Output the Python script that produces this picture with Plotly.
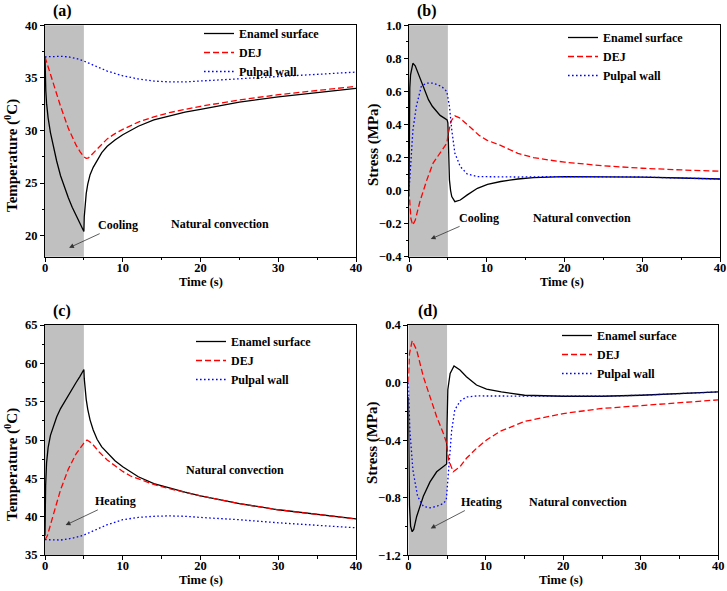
import plotly.graph_objects as go

# ---------------- data ----------------
series_names = ["Enamel surface", "DEJ", "Pulpal wall"]
stage_end = 5  # end of cooling / heating stage (s)

# (a) temperature, cooling
t_a_enamel = [0, 0.03, 0.1, 0.2, 0.4, 0.7, 1.0, 1.5, 2.0, 2.5, 3.0, 3.5, 4.0, 4.5, 5.0,
              5.05, 5.15, 5.3, 5.5, 5.8, 6.2, 6.7, 7.3, 8, 9, 10, 12, 14, 16, 18, 20, 25, 30, 35, 40]
temp_a_enamel = [37.0, 35.0, 33.8, 32.6, 31.2, 29.8, 28.7, 27.1, 25.7, 24.6, 23.6, 22.7, 21.9, 21.2, 20.4,
                 21.8, 23.0, 24.0, 24.9, 25.8, 26.5, 27.2, 27.9, 28.5, 29.1, 29.6, 30.4, 31.0, 31.4, 31.75, 32.0, 32.7, 33.2, 33.6, 34.0]
t_a_dej = [0, 0.3, 1, 2, 3, 4, 4.5, 5, 5.3, 5.6, 6, 6.5, 7, 8, 9, 10, 12, 14, 16, 20, 25, 30, 35, 40]
temp_a_dej = [37.0, 36.3, 34.6, 32.3, 30.2, 28.6, 28.0, 27.5, 27.35, 27.4, 27.7, 28.1, 28.5, 29.2, 29.7,
              30.1, 30.8, 31.3, 31.7, 32.3, 32.9, 33.4, 33.8, 34.2]
t_a_pulp = [0, 1, 2, 3, 4, 5, 6, 7, 8, 10, 12, 14, 16, 18, 20, 25, 30, 35, 40]
temp_a_pulp = [37.0, 37.05, 37.05, 37.0, 36.85, 36.6, 36.3, 35.95, 35.65, 35.2, 34.9, 34.7, 34.62, 34.62,
               34.7, 34.9, 35.1, 35.3, 35.55]

# (b) stress, cooling
t_b_enamel = [0, 0.05, 0.1, 0.2, 0.35, 0.5, 0.8, 1.0, 1.5, 2.0, 2.5, 3.0, 3.5, 4.0, 4.5, 4.9, 5.0,
              5.1, 5.2, 5.35, 5.5, 5.9, 6.6, 7.5, 8.8, 10.1, 11.8, 14, 16, 20, 25, 30, 35, 40]
stress_b_enamel = [0.0, 0.45, 0.62, 0.70, 0.75, 0.77, 0.755, 0.73, 0.665, 0.60, 0.55, 0.51, 0.48, 0.455,
                   0.44, 0.428, 0.41, 0.2, 0.065, 0.0, -0.036, -0.067, -0.057, -0.026, 0.014, 0.038, 0.055,
                   0.07, 0.078, 0.085, 0.085, 0.082, 0.076, 0.07]
t_b_dej = [0, 0.1, 0.25, 0.47, 0.8, 1.4, 2.3, 3.1, 4.0, 4.86, 5.07, 5.4, 5.9, 6.5, 7, 8, 9, 10, 11.7,
           14, 16, 18, 20, 25, 30, 35, 40]
stress_b_dej = [0.0, -0.1, -0.17, -0.208, -0.18, -0.067, 0.065, 0.166, 0.226, 0.287, 0.347, 0.42, 0.452,
                0.44, 0.42, 0.375, 0.335, 0.305, 0.275, 0.225, 0.2, 0.185, 0.172, 0.15, 0.135, 0.125, 0.117]
t_b_pulp = [0, 0.3, 0.51, 0.94, 1.58, 2.2, 3.1, 4.2, 4.86, 5.2, 5.5, 5.9, 6.6, 7.5, 8.8, 10, 14, 20, 25, 30, 35, 40]
stress_b_pulp = [0.0, 0.186, 0.368, 0.509, 0.63, 0.65, 0.65, 0.63, 0.60, 0.51, 0.368, 0.226, 0.145, 0.10,
                 0.085, 0.084, 0.082, 0.085, 0.085, 0.082, 0.076, 0.07]

# (c) temperature, heating
t_c_enamel = [0, 0.03, 0.08, 0.2, 0.4, 0.7, 1.0, 1.5, 2.0, 2.5, 3.0, 3.5, 4.0, 4.5, 5.0,
              5.05, 5.15, 5.3, 5.5, 5.8, 6.2, 6.7, 7.3, 8, 9, 10, 11, 12, 14, 16, 18, 20, 25, 30, 35, 40]
temp_c_enamel = [37.5, 41.0, 44.0, 47.0, 49.0, 50.6, 51.6, 53.0, 54.1, 55.0, 55.9, 56.7, 57.5, 58.3, 59.2,
                 58.0, 56.8, 55.3, 54.0, 52.6, 51.3, 50.1, 49.1, 48.3, 47.3, 46.5, 45.8, 45.2, 44.3, 43.7,
                 43.2, 42.7, 41.7, 40.9, 40.3, 39.7]
t_c_dej = [0, 0.3, 1, 2, 3, 4, 5, 5.4, 6, 7, 8, 9, 10, 11, 12, 14, 16, 18, 20, 25, 30, 35, 40]
temp_c_dej = [37.0, 37.5, 40.0, 43.5, 46.2, 48.2, 49.6, 50.0, 49.6, 48.4, 47.4, 46.6, 45.9, 45.3, 44.9,
              44.2, 43.65, 43.2, 42.7, 41.7, 40.9, 40.3, 39.7]
t_c_pulp = [0, 1, 2, 3, 4, 5, 6, 7, 8, 10, 12, 14, 16, 18, 20, 25, 30, 35, 40]
temp_c_pulp = [37.0, 36.95, 36.95, 37.1, 37.3, 37.6, 38.0, 38.5, 38.95, 39.6, 39.9, 40.05, 40.1, 40.05,
               39.9, 39.6, 39.2, 38.9, 38.55]

# (d) stress, heating
t_d_enamel = [0, 0.05, 0.15, 0.3, 0.5, 0.7, 1.08, 1.94, 2.8, 3.66, 4.52, 4.95, 5.0, 5.1, 5.4, 5.9,
              6.67, 7.5, 8.8, 10.1, 12, 15, 20, 25, 30, 35, 40]
stress_d_enamel = [-0.1, -0.5, -0.85, -1.0, -1.036, -1.02, -0.93, -0.79, -0.69, -0.62, -0.584, -0.566,
                   -0.3, -0.05, 0.064, 0.115, 0.087, 0.041, -0.017, -0.045, -0.065, -0.088, -0.095,
                   -0.095, -0.088, -0.078, -0.065]
t_d_dej = [0, 0.15, 0.5, 1.08, 1.94, 2.8, 3.66, 4.52, 4.95, 5.2, 5.8, 6.67, 7.5, 8.8, 10.1, 11.8, 15,
           20, 25, 30, 35, 40]
stress_d_dej = [0.0, 0.2, 0.291, 0.226, 0.041, -0.098, -0.237, -0.353, -0.42, -0.538, -0.62, -0.585,
                -0.526, -0.457, -0.399, -0.34, -0.27, -0.215, -0.18, -0.16, -0.14, -0.12]
t_d_pulp = [0, 0.2, 0.6, 1.2, 1.94, 2.8, 3.66, 4.52, 4.9, 5.1, 5.3, 5.6, 6.0, 6.67, 7.5, 8.8, 11.8,
            16, 20, 25, 30, 35, 40]
stress_d_pulp = [0.0, -0.33, -0.61, -0.79, -0.86, -0.87, -0.86, -0.84, -0.816, -0.7, -0.54, -0.33,
                 -0.19, -0.13, -0.10, -0.093, -0.093, -0.093, -0.095, -0.095, -0.088, -0.078, -0.065]

# axis ranges and ticks
x_range = [0, 40]
x_title = "Time (s)"
y_ranges = {"a": [18, 40], "b": [-0.4, 1.0], "c": [35, 65], "d": [-1.2, 0.4]}
y_dticks = {"a": 5, "b": 0.2, "c": 5, "d": 0.4}
y_titles = {"a": "Temperature (<sup>0</sup>C)", "b": "Stress (MPa)",
            "c": "Temperature (<sup>0</sup>C)", "d": "Stress (MPa)"}
stage_labels = {"a": "Cooling", "b": "Cooling", "c": "Heating", "d": "Heating"}

# ---------------- figure ----------------
W, H = 727, 591
FONT = "Liberation Serif"
colors = ["#000000", "#ff0000", "#0000ff"]
dashes = ["solid", "6px,3px", "1.6px,2.4px"]

panels = [
    ("a", "x", "y", "legend",
     [(t_a_enamel, temp_a_enamel), (t_a_dej, temp_a_dej), (t_a_pulp, temp_a_pulp)]),
    ("b", "x2", "y2", "legend2",
     [(t_b_enamel, stress_b_enamel), (t_b_dej, stress_b_dej), (t_b_pulp, stress_b_pulp)]),
    ("c", "x3", "y3", "legend3",
     [(t_c_enamel, temp_c_enamel), (t_c_dej, temp_c_dej), (t_c_pulp, temp_c_pulp)]),
    ("d", "x4", "y4", "legend4",
     [(t_d_enamel, stress_d_enamel), (t_d_dej, stress_d_dej), (t_d_pulp, stress_d_pulp)]),
]

fig = go.Figure()
for key, xa, ya, lg, data in panels:
    for i, (tt, vv) in enumerate(data):
        fig.add_trace(go.Scatter(
            x=tt, y=vv, mode="lines", name=series_names[i], xaxis=xa, yaxis=ya, legend=lg,
            line=dict(color=colors[i], width=1.3, dash=dashes[i]),
        ))

# domains in pixels (left, right, top, bottom)
dom_px = {
    "a": (45, 356, 25.3, 256.7),
    "b": (409, 720, 25.3, 256.7),
    "c": (45, 356, 325, 555),
    "d": (408.3, 718.3, 325, 555.3),
}

axis_common = dict(
    showline=True, linecolor="black", linewidth=1, mirror=True,
    ticks="outside", ticklen=4, tickwidth=1, tickcolor="black",
    showgrid=False, zeroline=False, automargin=False,
    tickfont=dict(family=FONT, size=12.5, color="black", weight="bold"),
)

layout = dict(
    width=W, height=H, margin=dict(l=0, r=0, t=0, b=0, autoexpand=False),
    paper_bgcolor="white", plot_bgcolor="white", showlegend=True,
    shapes=[], annotations=[],
)

ax_names = {"a": ("xaxis", "yaxis", "x", "y"), "b": ("xaxis2", "yaxis2", "x2", "y2"),
            "c": ("xaxis3", "yaxis3", "x3", "y3"), "d": ("xaxis4", "yaxis4", "x4", "y4")}

# text positions
nat_pos = {"a": (22.5, 21.1), "b": (22.2, -0.165), "c": (24.5, 46.1), "d": (21.9, -0.83)}
stage_pos = {"a": (9.4, 21.0), "b": (9.0, -0.165), "c": (9.1, 42.0), "d": (9.4, -0.83)}
arrow_head = {"a": (3.1, 18.85), "b": (2.8, -0.293), "c": (2.66, 38.9), "d": (2.89, -1.013)}
legend_px = {"a": (199, 19), "b": (563, 23), "c": (191, 327), "d": (557, 321)}
label_px = {"a": (62, 11), "b": (427, 11), "c": (62, 311), "d": (428, 311)}
xtitle_px = {"a": (201, 282), "b": (562, 282), "c": (201, 580), "d": (561, 580)}
ytitle_px = {"a": (11, 156), "b": (373, 144), "c": (11, 465), "d": (372, 443)}

for key in ["a", "b", "c", "d"]:
    xn, yn, xr, yr = ax_names[key]
    l, r, t, b = dom_px[key]
    layout[xn] = dict(axis_common, domain=[l / W, r / W], range=x_range, dtick=10, anchor=yr,
                      ticklabelstandoff=-5,
                      minor=dict(ticks="outside", ticklen=2.5, tickcolor="black", dtick=5))
    layout[yn] = dict(axis_common, domain=[1 - b / H, 1 - t / H], range=y_ranges[key],
                      dtick=y_dticks[key], anchor=xr,
                      minor=dict(ticks="outside", ticklen=2.5, tickcolor="black", dtick=y_dticks[key] / 2),
                      tickformat=".1f" if key in ("b", "d") else None)
    layout["shapes"].append(dict(type="rect", xref=xr, yref=yr + " domain", x0=0, x1=stage_end,
                                 y0=0, y1=1, fillcolor="#c0c0c0", line=dict(width=0), layer="below"))
    tf = dict(family=FONT, size=12, color="black", weight="bold")
    layout["annotations"].append(dict(xref=xr, yref=yr, x=nat_pos[key][0], y=nat_pos[key][1],
                                      text="Natural convection", showarrow=False, font=tf))
    layout["annotations"].append(dict(xref=xr, yref=yr, x=arrow_head[key][0], y=arrow_head[key][1],
                                      axref=xr, ayref=yr, ax=stage_pos[key][0], ay=stage_pos[key][1],
                                      text=stage_labels[key], font=tf, showarrow=True, arrowhead=2,
                                      arrowsize=1.2, arrowwidth=0.8, arrowcolor="#333333", standoff=0))
    layout["annotations"].append(dict(xref="paper", yref="paper", x=label_px[key][0] / W,
                                      y=1 - label_px[key][1] / H, xanchor="center", yanchor="middle",
                                      text="(" + key + ")", showarrow=False,
                                      font=dict(family=FONT, size=16, color="black", weight="bold")))
    # axis titles
    layout["annotations"].append(dict(xref="paper", yref="paper", x=xtitle_px[key][0] / W,
                                      y=1 - xtitle_px[key][1] / H, xanchor="center", yanchor="middle",
                                      text=x_title, showarrow=False,
                                      font=dict(family=FONT, size=12.5, color="black", weight="bold")))
    layout["annotations"].append(dict(xref="paper", yref="paper", x=ytitle_px[key][0] / W,
                                      y=1 - ytitle_px[key][1] / H, xanchor="center", yanchor="middle",
                                      text=y_titles[key], showarrow=False, textangle=-90,
                                      font=dict(family=FONT, size=15, color="black", weight="bold")))
    lgname = {"a": "legend", "b": "legend2", "c": "legend3", "d": "legend4"}[key]
    layout[lgname] = dict(x=legend_px[key][0] / W, y=1 - legend_px[key][1] / H, xanchor="left",
                          yanchor="top", bgcolor="rgba(0,0,0,0)", tracegroupgap=0,
                          font=dict(family=FONT, size=12, color="black", weight="bold"))

fig.update_layout(**layout)
fig.write_html("out.html", config={"displayModeBar": False},
               post_script="document.body.style.margin='0px';document.body.style.overflow='hidden';")
